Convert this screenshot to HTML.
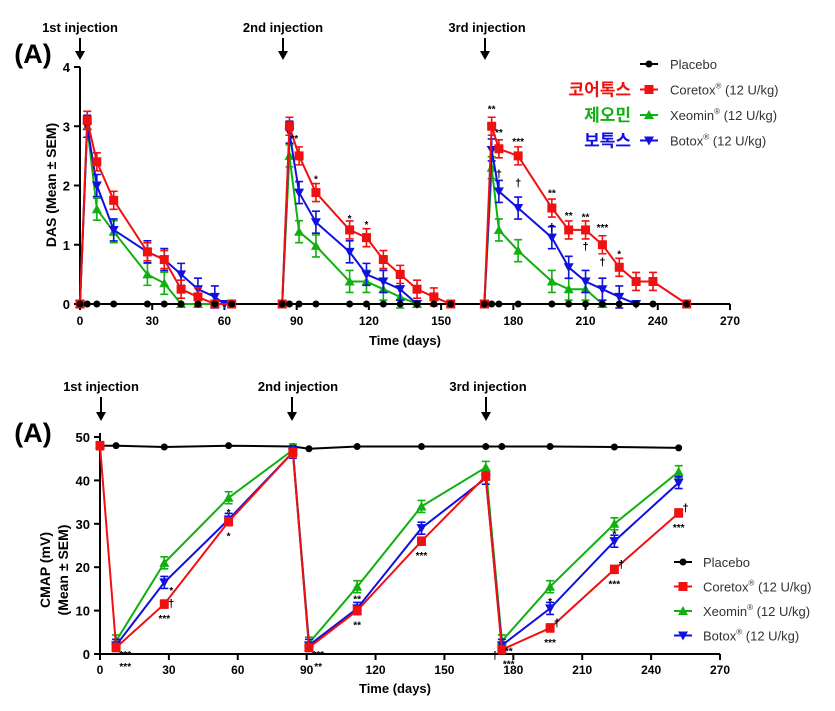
<!DOCTYPE html>
<html><head><meta charset="utf-8"><style>
body{margin:0;background:#fff}
svg{display:block;font-family:"Liberation Sans","Noto Sans CJK KR",sans-serif}
</style></head><body>
<svg id="s" width="835" height="711" xmlns="http://www.w3.org/2000/svg"></svg>
<script>
const S=document.getElementById('s');let h='';
const C={p:'#000',c:'#f01010',x:'#10b010',b:'#1010e0'};
function mk(t,x,y,c){
 if(t=='p')return `<circle cx="${x}" cy="${y}" r="3.5" fill="${c}"/>`;
 if(t=='c')return `<rect x="${x-4.5}" y="${y-4.5}" width="9" height="9" fill="${c}"/>`;
 if(t=='x')return `<polygon points="${x},${y-5} ${x-5},${y+4} ${x+5},${y+4}" fill="${c}"/>`;
 return `<polygon points="${x},${y+5} ${x-5},${y-4} ${x+5},${y-4}" fill="${c}"/>`;
}
function series(t,pts,X,Y,err){
 let d=pts.map((p,i)=>(i?'L':'M')+X(p[0]).toFixed(1)+','+Y(p[1]).toFixed(1)).join('');
 h+=`<path d="${d}" fill="none" stroke="${C[t]}" stroke-width="2"/>`;
 pts.forEach(p=>{const x=X(p[0]),y=Y(p[1]);
  if(err&&t!='p'&&p[1]>0){const e=err;h+=`<path d="M${x},${y-e}V${y+e}M${x-4},${y-e}h8M${x-4},${y+e}h8" stroke="${C[t]}" stroke-width="1.6"/>`;}
  h+=mk(t,x,y,C[t]);});
}
function txt(x,y,s,o){o=o||{};h+=`<text x="${x}" y="${y}" font-size="${o.fs||12}" font-weight="${o.fw||'bold'}" fill="${o.c||'#000'}" text-anchor="${o.a||'middle'}"${o.tr?` transform="${o.tr}"`:''}>${s}</text>`;}
function arrow(x,y1,y2){h+=`<path d="M${x},${y1}V${y2-8}" stroke="#000" stroke-width="2"/><polygon points="${x-5},${y2-9} ${x+5},${y2-9} ${x},${y2}" fill="#000"/>`;}
// ===== TOP =====
{const X=d=>80+d*650/270,Y=v=>304-v*59.25;
 h+=`<path d="M80,67V304H730" fill="none" stroke="#000" stroke-width="2"/>`;
 for(let v=0;v<=4;v++){h+=`<path d="M74,${Y(v)}H80" stroke="#000" stroke-width="2"/>`;txt(70,Y(v)+5,v,{a:'end',fs:13});}
 for(let d=0;d<=270;d+=30){h+=`<path d="M${X(d)},304V310" stroke="#000" stroke-width="2"/>`;txt(X(d),325,d,{fs:12});}
 txt(405,345,'Time (days)',{fs:13});
 txt(56,185,'DAS (Mean ± SEM)',{fs:14,tr:'rotate(-90 56 185)'});
 txt(33,63,'(A)',{fs:27});
 txt(80,32,'1st injection',{fs:13});arrow(80,38,60);
 txt(283,32,'2nd injection',{fs:13});arrow(283,38,60);
 txt(487,32,'3rd injection',{fs:13});arrow(485,38,60);
 series('x',[[0,0],[3,3.0],[7,1.6],[14,1.22],[28,0.5],[35,0.35],[42,0],[49,0],[56,0]],X,Y,11);
 series('x',[[84,0],[87,2.5],[91,1.22],[98,0.98],[112,0.38],[119,0.38],[126,0.25],[133,0.12],[140,0]],X,Y,11);
 series('x',[[168,0],[171,2.3],[174,1.25],[182,0.9],[196,0.38],[203,0.25],[210,0.25],[217,0]],X,Y,11);
 series('b',[[0,0],[3,3.0],[7,2.0],[14,1.25],[28,0.88],[35,0.75],[42,0.5],[49,0.25],[56,0.12],[60,0]],X,Y,11);
 series('b',[[84,0],[87,2.9],[91,1.88],[98,1.38],[112,0.88],[119,0.5],[126,0.38],[133,0.25],[140,0]],X,Y,11);
 series('b',[[168,0],[171,2.6],[174,1.9],[182,1.62],[196,1.12],[203,0.62],[210,0.38],[217,0.25],[224,0.12],[231,0]],X,Y,11);
 series('c',[[0,0],[3,3.1],[7,2.4],[14,1.75],[28,0.88],[35,0.75],[42,0.25],[49,0.12],[56,0],[63,0]],X,Y,9);
 series('c',[[84,0],[87,3.0],[91,2.5],[98,1.88],[112,1.25],[119,1.12],[126,0.75],[133,0.5],[140,0.25],[147,0.12],[154,0]],X,Y,9);
 series('c',[[168,0],[171,3.0],[174,2.62],[182,2.5],[196,1.62],[203,1.25],[210,1.25],[217,1.0],[224,0.62],[231,0.38],[238,0.38],[252,0]],X,Y,9);
 [0,3,7,14,28,35,42,49,56,63,84,87,91,98,112,119,126,133,140,147,154,168,171,174,182,196,203,210,217,224,231,238,252].forEach(d=>h+=mk('p',X(d),304,'#000'));
 [[89,2.8,'**'],[98,2.12,'*'],[112,1.45,'*'],[119,1.35,'*'],[171,3.3,'**'],[174,2.9,'**'],[182,2.75,'***'],[196,1.88,'**'],[203,1.5,'**'],[210,1.48,'**'],[217,1.3,'***'],[224,0.85,'*']].forEach(a=>txt(X(a[0]),Y(a[1])+4,a[2],{fs:10}));
 [[174,2.2],[182,2.05],[210,0.98],[217,0.72],[196,1.3]].forEach(a=>txt(X(a[0]),Y(a[1])+4,'†',{fs:11}));
 const L=[['p','Placebo','',''],['c','Coretox<tspan font-size="8" dy="-6">®</tspan><tspan dy="6"> (12 U/kg)</tspan>','코어톡스',C.c],['x','Xeomin<tspan font-size="8" dy="-6">®</tspan><tspan dy="6"> (12 U/kg)</tspan>','제오민',C.x],['b','Botox<tspan font-size="8" dy="-6">®</tspan><tspan dy="6"> (12 U/kg)</tspan>','보톡스',C.b]];
 L.forEach((l,i)=>{const y=64+i*25.5;h+=`<path d="M640,${y}H658" stroke="${C[l[0]]}" stroke-width="2"/>`+mk(l[0],649,y,C[l[0]]);
  txt(670,y+5,l[1],{a:'start',fw:'normal',fs:13,c:'#333'});if(l[2])txt(631,y+6,l[2],{a:'end',fs:17,c:l[3]});});
}
// ===== BOTTOM =====
{const X=d=>100+d*620/270,Y=v=>654-v*4.34;
 h+=`<path d="M100,433V654H720" fill="none" stroke="#000" stroke-width="2"/>`;
 for(let v=0;v<=50;v+=10){h+=`<path d="M94,${Y(v)}H100" stroke="#000" stroke-width="2"/>`;txt(90,Y(v)+5,v,{a:'end',fs:13});}
 for(let d=0;d<=270;d+=30){h+=`<path d="M${X(d)},654V660" stroke="#000" stroke-width="2"/>`;txt(X(d),674,d,{fs:12});}
 txt(395,693,'Time (days)',{fs:13});
 txt(50,570,'CMAP (mV)',{fs:14,tr:'rotate(-90 50 570)'});
 txt(68,570,'(Mean ± SEM)',{fs:14,tr:'rotate(-90 68 570)'});
 txt(33,442,'(A)',{fs:27});
 txt(101,391,'1st injection',{fs:13});arrow(101,397,421);
 txt(298,391,'2nd injection',{fs:13});arrow(292,397,421);
 txt(488,391,'3rd injection',{fs:13});arrow(486,397,421);
 series('p',[[0,48],[7,48],[28,47.7],[56,48],[84,47.8],[91,47.3],[112,47.8],[140,47.8],[168,47.8],[175,47.8],[196,47.8],[224,47.7],[252,47.5]],X,Y,0);
 series('x',[[7,3],[28,21],[56,36],[84,47],[91,2.5],[112,15.5],[140,34],[168,43],[175,3],[196,15.5],[224,30],[252,42]],X,Y,6);
 series('b',[[7,2],[28,16.5],[56,31],[84,46.5],[91,2],[112,10.5],[140,29],[168,40.5],[175,2],[196,10.5],[224,26],[252,39.5]],X,Y,6);
 series('c',[[0,48],[7,1.5],[28,11.5],[56,30.5],[84,46.5],[91,1.5],[112,10],[140,26],[168,41],[175,1],[196,6],[224,19.5],[252,32.5]],X,Y,4);
 [[11,0.2,'***'],[11,-2.5,'***'],[28,8.5,'***'],[31,15,'*'],[56,27.5,'*'],[56,33,'*'],[95,0.2,'***'],[95,-2.5,'**'],[112,7,'**'],[112,13,'**'],[140,23,'***'],[178,-2,'***'],[178,1,'**'],[196,3,'***'],[196,12.5,'*'],[224,16.5,'***'],[224,28,'*'],[252,29.5,'***']].forEach(a=>txt(X(a[0]),Y(a[1])+5,a[2],{fs:10}));
 [[31,12],[199,7.5],[227,21],[255,34],[172,0]].forEach(a=>txt(X(a[0]),Y(a[1])+5,'†',{fs:11}));
 const L=[['p','Placebo'],['c','Coretox<tspan font-size="8" dy="-6">®</tspan><tspan dy="6"> (12 U/kg)</tspan>'],['x','Xeomin<tspan font-size="8" dy="-6">®</tspan><tspan dy="6"> (12 U/kg)</tspan>'],['b','Botox<tspan font-size="8" dy="-6">®</tspan><tspan dy="6"> (12 U/kg)</tspan>']];
 L.forEach((l,i)=>{const y=562+i*24.5;h+=`<path d="M674,${y}H692" stroke="${C[l[0]]}" stroke-width="2"/>`+mk(l[0],683,y,C[l[0]]);
  txt(703,y+5,l[1],{a:'start',fw:'normal',fs:13,c:'#333'});});
}
S.innerHTML=h;
</script>
</body></html>
